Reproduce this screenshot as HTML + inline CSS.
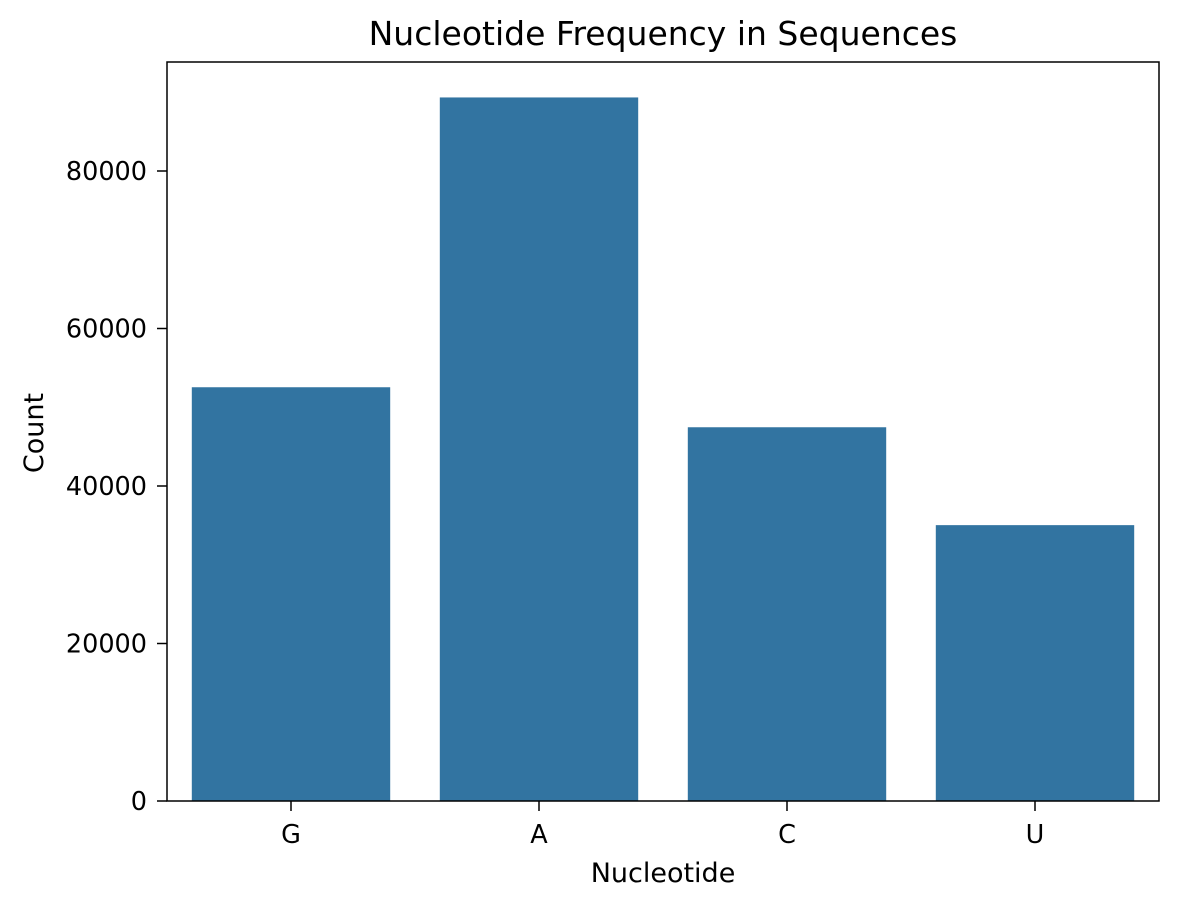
<!DOCTYPE html>
<html><head><meta charset="utf-8"><style>
body{margin:0;background:#fff;}
svg{display:block;font-family:"DejaVu Sans","Liberation Sans",sans-serif;}
</style></head><body>
<svg id="chart" width="1179" height="908"></svg>
<script>
const categories = ["G","A","C","U"];
const counts = [52540, 89340, 47460, 35030];
const yTicks = [0,20000,40000,60000,80000];

const svg = document.getElementById('chart');
const NS = 'http://www.w3.org/2000/svg';
const L=167,R=1159,T=62,B=801;
const yMax = 80000*(B-T)/(801-171);
function y(v){return B-(v/yMax)*(B-T);}
const step=(R-L)/categories.length;
function xc(i){return L+step*(i+0.5);}
function mk(tag,attrs,text){const e=document.createElementNS(NS,tag);for(const k in attrs)e.setAttribute(k,attrs[k]);if(text!==undefined)e.textContent=text;svg.appendChild(e);return e;}

categories.forEach((c,i)=>{
  const w=step*0.8;
  const r=mk('rect',{x:xc(i)-w/2,y:y(counts[i]),width:w,height:B-y(counts[i]),fill:'#3274a1'});
  
  
  const t=mk('line',{x1:xc(i),x2:xc(i),y1:B,y2:B+10,stroke:'#000','stroke-width':1.5});
  
  
  const lb=mk('text',{x:xc(i),y:B+42,'text-anchor':'middle','font-size':25.5},c);
  
  
});
yTicks.forEach(v=>{
  const t=mk('line',{x1:L-10,x2:L,y1:y(v),y2:y(v),stroke:'#000','stroke-width':1.5});
  
  
  const lb=mk('text',{x:L-20,y:y(v)+9,'text-anchor':'end','font-size':25.5},String(v));
  
  
});
const fr=mk('rect',{x:L,y:T,width:R-L,height:B-T,fill:'none',stroke:'#000','stroke-width':1.5});


const ti=mk('text',{x:(L+R)/2,y:45,'text-anchor':'middle','font-size':33},'Nucleotide Frequency in Sequences');


const xt=mk('text',{x:(L+R)/2,y:882,'text-anchor':'middle','font-size':27},'Nucleotide');


const yt=mk('text',{x:0,y:0,'text-anchor':'middle','font-size':27,transform:'translate(43,433) rotate(-90)'},'Count');


</script>
</body></html>
